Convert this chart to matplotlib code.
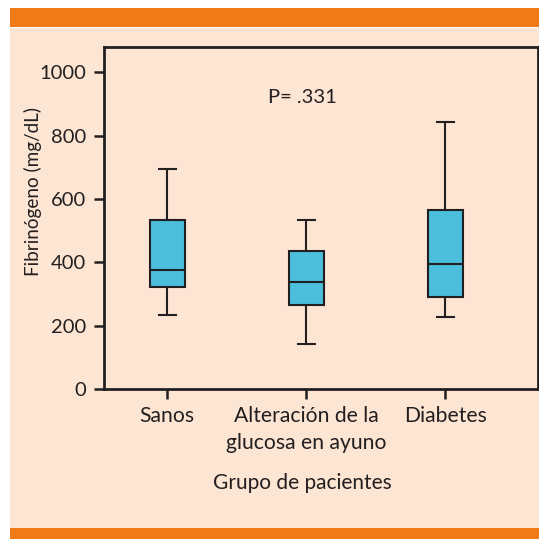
import matplotlib
matplotlib.use("Agg")
import matplotlib.pyplot as plt
from matplotlib.patches import Rectangle

# Fibrinogen by patient group (mg/dL)
groups = ["Sanos", "Alteración de la\nglucosa en ayuno", "Diabetes"]
whisker_low = [233, 142, 226]
q1 = [323, 266, 291]
median = [377, 338, 393]
q3 = [532, 435, 564]
whisker_high = [694, 532, 842]
y_ticks = [0, 200, 400, 600, 800, 1000]
p_text = "P= .331"

ORANGE = "#F07A16"
PEACH = "#FDE5D3"
BOX = "#4BBEDC"
INK = "#231F20"

plt.rcParams["font.family"] = ["Lato", "DejaVu Sans"]

W = H = 539
fig = plt.figure(figsize=(W / 100, H / 100), dpi=100, facecolor="white")

def fx(px):
    return px / W

def fy(py):
    return 1 - py / H

# Panel background and orange bands
for (x0, y0, x1, y1, c) in [(10, 27.5, W, 528, PEACH),
                            (10, 8, W, 27.5, ORANGE),
                            (10, 528, W, H, ORANGE)]:
    fig.patches.append(Rectangle((fx(x0), fy(y1)), fx(x1) - fx(x0), fy(y0) - fy(y1),
                                 transform=fig.transFigure, facecolor=c,
                                 edgecolor="none", zorder=-5))

left, right, top, bottom = 104, 538, 47, 389
ax = fig.add_axes([fx(left), fy(bottom), fx(right) - fx(left), fy(top) - fy(bottom)])
ax.set_facecolor("none")
ax.set_zorder(2)

stats = []
for i in range(len(groups)):
    stats.append(dict(whislo=whisker_low[i], q1=q1[i], med=median[i], q3=q3[i],
                      whishi=whisker_high[i], fliers=[]))

lw = 1.5
ax.bxp(stats, positions=[1, 2, 3], widths=0.25, patch_artist=True, showfliers=False,
       boxprops=dict(facecolor=BOX, edgecolor=INK, linewidth=lw),
       medianprops=dict(color=INK, linewidth=lw),
       whiskerprops=dict(color=INK, linewidth=lw),
       capprops=dict(color=INK, linewidth=lw),
       capwidths=0.125)

fs = 14.5
ax.set_xlim(0.545, 3.665)
ax.set_ylim(0, 1000 * (bottom - top) / (388.5 - 71.7))
ax.set_yticks(y_ticks)
ax.set_xticks([1, 2, 3])
ax.set_xticklabels(groups, fontsize=15.2, color=INK, linespacing=1.45)
ax.set_yticklabels([str(v) for v in y_ticks], fontsize=fs, color=INK)

for s in ax.spines.values():
    s.set_linewidth(2.0)
    s.set_color(INK)
ax.tick_params(axis="both", which="major", direction="out", length=7, width=1.8, color=INK)
ax.tick_params(axis="y", pad=6)
ax.tick_params(axis="x", pad=5)

ax.text(1.97, 921, p_text, ha="center", va="center", fontsize=fs, color=INK)

fig.text(fx(33), fy(191.5), "Fibrinógeno (mg/dL)", rotation=90, ha="center", va="center",
         fontsize=13.6, color=INK)
fig.text(fx(302), fy(483), "Grupo de pacientes", ha="center", va="center",
         fontsize=15, color=INK)

fig.savefig("out.png", dpi=100, facecolor="white")
